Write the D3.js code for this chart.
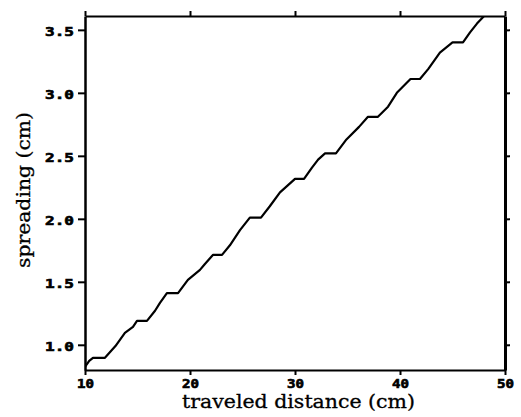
<!DOCTYPE html>
<html>
<head>
<meta charset="utf-8">
<script src="https://cdn.jsdelivr.net/npm/d3@7"></script>
<style>
  html, body { margin: 0; padding: 0; background: #fff; }
  svg { display: block; }
</style>
</head>
<body>
<svg id="chart" width="521" height="417"></svg>
<script>
// ---- data ----
const distance = [10.0, 10.4, 10.76, 11.9, 12.9, 13.8, 14.57, 14.95, 15.9, 16.67, 17.14, 17.8, 18.86,
  19.8, 20.95, 21.4, 22.2, 23.05, 23.8, 24.76, 25.7, 26.76, 27.6, 28.57, 30.0, 30.86, 31.6, 32.2,
  32.86, 33.9, 34.9, 36.1, 36.95, 37.9, 38.86, 39.7, 41.0, 41.9, 42.7, 43.8, 45.0, 46.0, 46.67,
  47.33, 47.9, 48.3];
const spreading = [0.825, 0.873, 0.897, 0.897, 0.99, 1.095, 1.143, 1.19, 1.19, 1.27, 1.333, 1.41, 1.41,
  1.516, 1.595, 1.64, 1.714, 1.714, 1.79, 1.91, 2.01, 2.01, 2.10, 2.21, 2.317, 2.317, 2.405, 2.47,
  2.52, 2.52, 2.63, 2.73, 2.81, 2.81, 2.89, 3.0, 3.11, 3.11, 3.19, 3.32, 3.40, 3.40, 3.48,
  3.55, 3.60, 3.64];
const xTicks = [10, 20, 30, 40, 50];
const xTickLabels = ["10", "20", "30", "40", "50"];
const yTicks = [1.0, 1.5, 2.0, 2.5, 3.0, 3.5];
const yTickLabels = ["1.0", "1.5", "2.0", "2.5", "3.0", "3.5"];
const xTitle = "traveled distance (cm)";
const yTitle = "spreading (cm)";

// ---- layout ----
const svg = d3.select("#chart");
const L = 85, R = 505, T = 16, B = 370;
const x = d3.scaleLinear().domain([10, 50]).range([L, R]);
const y = d3.scaleLinear().domain([0.8, 3.61]).range([B, T]);

// clip
svg.append("defs").append("clipPath").attr("id", "clip")
  .append("rect").attr("x", L).attr("y", T).attr("width", R - L).attr("height", B - T);

// line
const pts = distance.map((d, i) => [d, spreading[i]]);
svg.append("path")
  .datum(pts)
  .attr("clip-path", "url(#clip)")
  .attr("fill", "none")
  .attr("stroke", "#000")
  .attr("stroke-width", 2.2)
  .attr("stroke-linejoin", "round")
  .attr("d", d3.line().x(d => x(d[0])).y(d => y(d[1])));

// axes
function styleAxis(g, w) {
  g.select(".domain").attr("stroke-width", w).attr("stroke", "#000");
  g.selectAll(".tick line").attr("stroke-width", 2).attr("stroke", "#000");
}
const tickFont = "'DejaVu Sans Mono', monospace";

const gB = svg.append("g").attr("transform", `translate(0,${B})`)
  .call(d3.axisBottom(x).tickValues(xTicks).tickFormat((d, i) => xTickLabels[i]).tickSizeOuter(0).tickSizeInner(5).tickPadding(5));
styleAxis(gB, 2.2);
gB.selectAll(".tick text")
  .attr("font-family", tickFont).attr("font-weight", "bold").attr("font-size", 11.5)
  .attr("fill", "#000").attr("stroke", "#000").attr("stroke-width", 0.6)
  .attr("textLength", (d, i) => xTickLabels[i].length * 8.5)
  .attr("lengthAdjust", "spacingAndGlyphs");

const gT = svg.append("g").attr("transform", `translate(0,${T})`)
  .call(d3.axisTop(x).tickValues(xTicks).tickFormat("").tickSizeOuter(0).tickSizeInner(5));
styleAxis(gT, 2.2);

const gL = svg.append("g").attr("transform", `translate(${L},0)`)
  .call(d3.axisLeft(y).tickValues(yTicks).tickFormat((d, i) => yTickLabels[i]).tickSizeOuter(0).tickSizeInner(7).tickPadding(4));
styleAxis(gL, 2.5);
gL.selectAll(".tick text")
  .attr("font-family", tickFont).attr("font-weight", "bold").attr("font-size", 11.5)
  .attr("fill", "#000").attr("stroke", "#000").attr("stroke-width", 0.6)
  .attr("dy", "0.5em")
  .attr("textLength", 29)
  .attr("lengthAdjust", "spacingAndGlyphs");

const gR = svg.append("g").attr("transform", `translate(${R},0)`)
  .call(d3.axisRight(y).tickValues(yTicks).tickFormat("").tickSizeOuter(0).tickSizeInner(5));
styleAxis(gR, 3);

// titles
const serif = "'DejaVu Serif', serif";
svg.append("text")
  .attr("x", (182 + 415) / 2).attr("y", 408)
  .attr("text-anchor", "middle")
  .attr("font-family", serif).attr("font-size", 18)
  .attr("textLength", 233).attr("lengthAdjust", "spacingAndGlyphs")
  .attr("fill", "#000").attr("stroke", "#000").attr("stroke-width", 0.3)
  .text(xTitle);

svg.append("text")
  .attr("transform", `translate(30,${(112 + 268) / 2}) rotate(-90)`)
  .attr("text-anchor", "middle")
  .attr("font-family", serif).attr("font-size", 18)
  .attr("textLength", 156).attr("lengthAdjust", "spacingAndGlyphs")
  .attr("fill", "#000").attr("stroke", "#000").attr("stroke-width", 0.3)
  .text(yTitle);
</script>
</body>
</html>
